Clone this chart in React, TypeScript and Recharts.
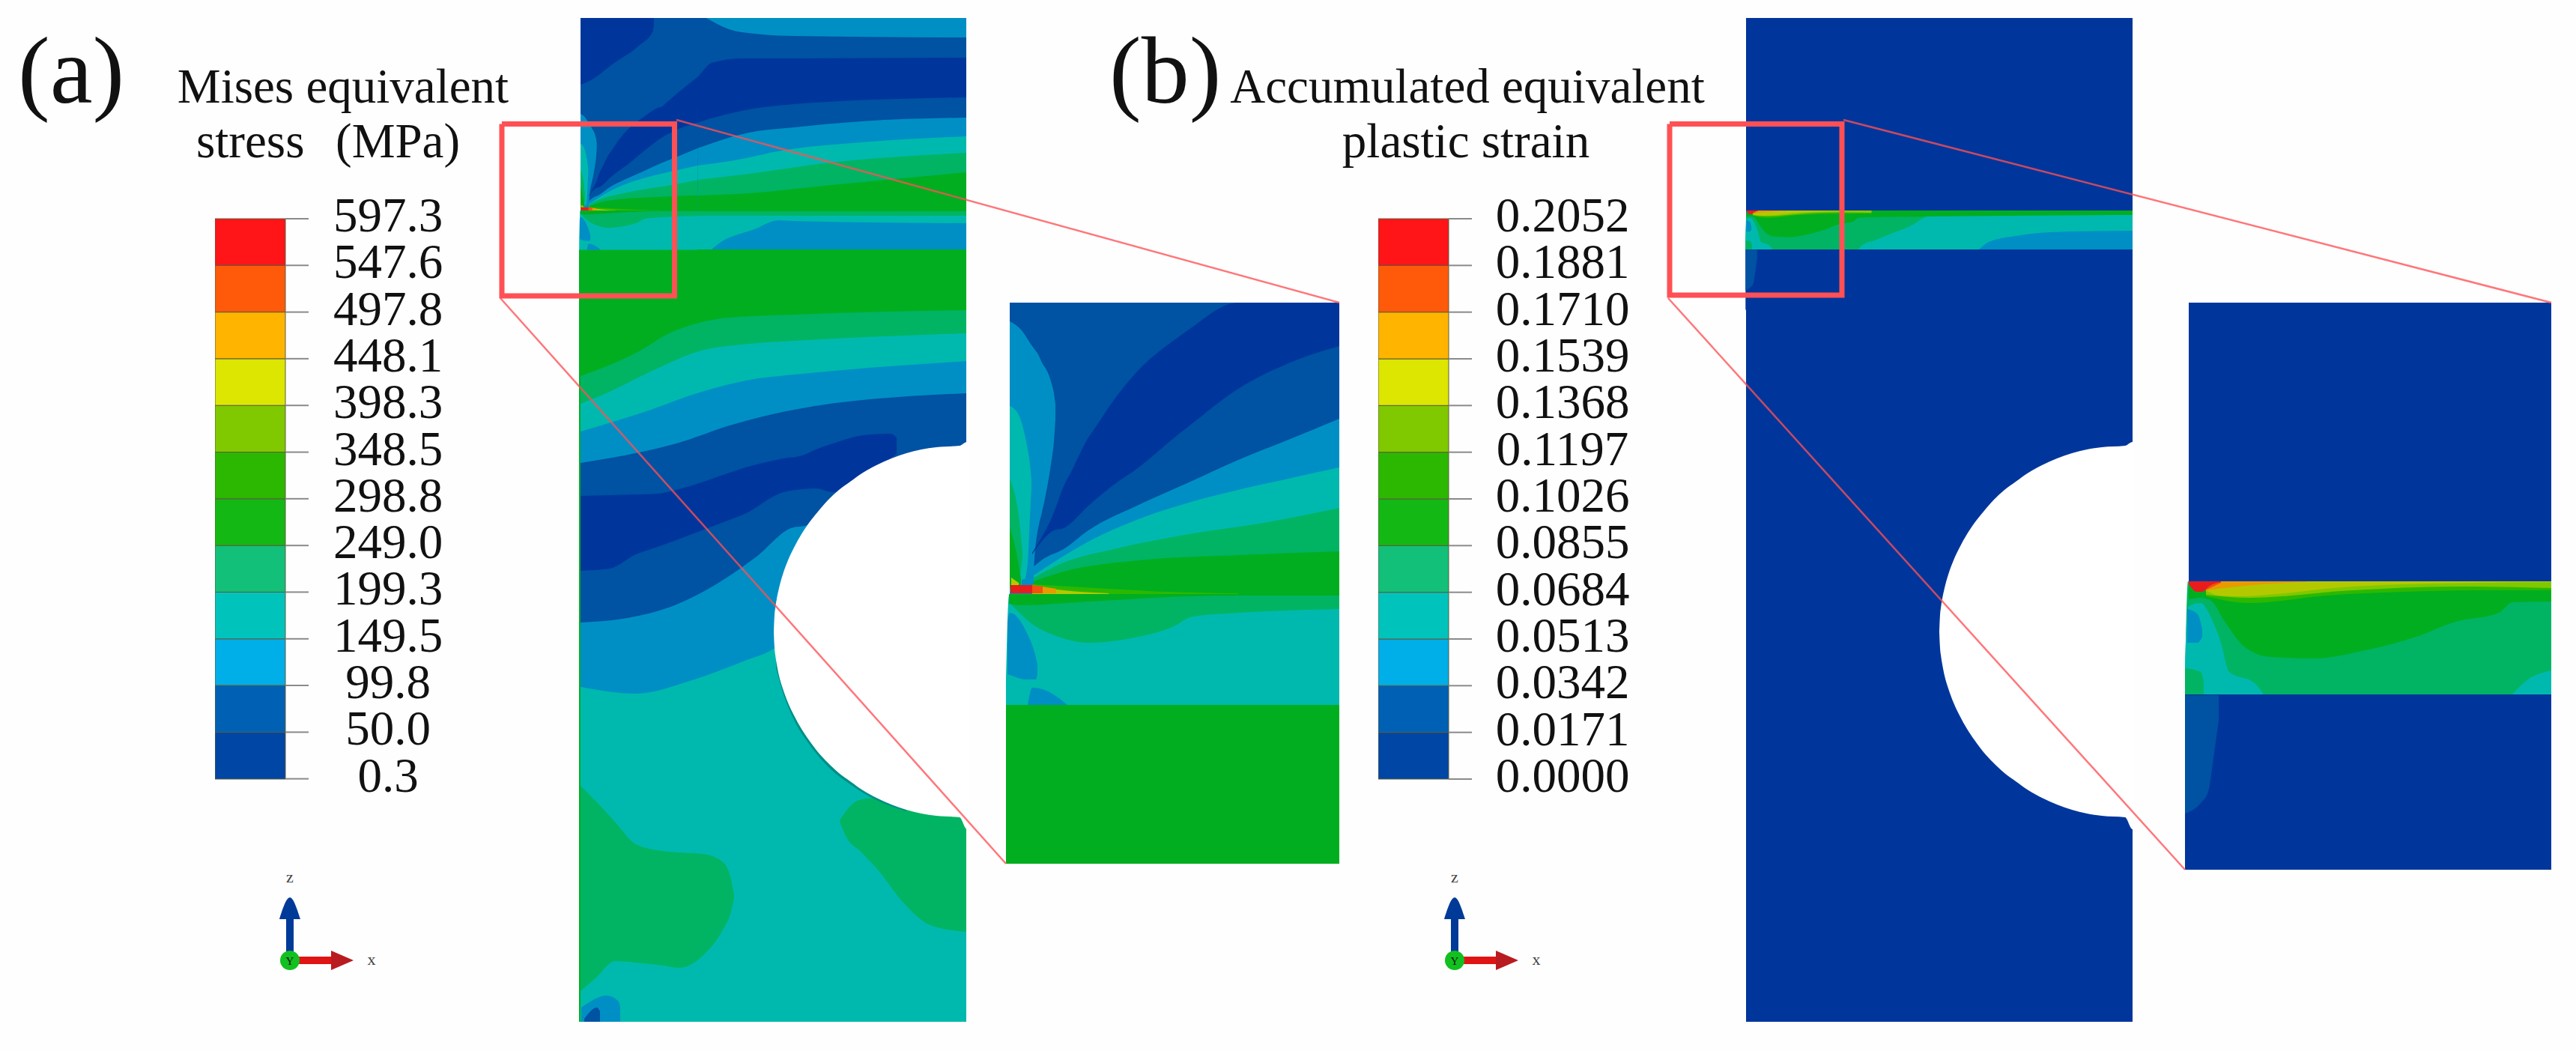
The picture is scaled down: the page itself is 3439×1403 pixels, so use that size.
import { Area, Bar, BarChart, ComposedChart, Line, ReferenceDot, XAxis, YAxis } from "recharts";

const W = 3439;
const H = 1403;

// contour colours, low to high
const C0 = "#00369b";
const C1 = "#0052a3";
const C2 = "#008fc4";
const C3 = "#00b9ae";
const C4 = "#00b464";
const C5 = "#00ae20";
const C6 = "#2cb800";
const C7 = "#80c800";
const C8 = "#b4c800";
const C9 = "#e89a00";
const C10 = "#f05010";
const C11 = "#e81c1c";
const RED = "#ff5055";

type Row = [number, number, number]; // x, upper y, lower y
type Band = { fill: string; rows: Row[] };

const stressLabels = [0.3, 50.0, 99.8, 149.5, 199.3, 249.0, 298.8, 348.5, 398.3, 448.1, 497.8, 547.6, 597.3];
const strainLabels = [0, 0.0171, 0.0342, 0.0513, 0.0684, 0.0855, 0.1026, 0.1197, 0.1368, 0.1539, 0.171, 0.1881, 0.2052];
const legendColors = ["#0046a4", "#0060b4", "#00aee8", "#00c4bc", "#12c07a", "#14b814", "#2cb800", "#80c800", "#dce600", "#ffb400", "#ff5a0a", "#ff1418"];

// zoomed view (a), picture units
const insetA: Band[] = [
  { fill: C1, rows: [[1348, 404, 795], [1788, 404, 795]] },
  { fill: C2, rows: [[1348, 429, 795], [1363, 440, 795], [1378, 462, 795], [1381, 466, 745], [1387, 475, 700], [1390, 482, 688], [1400, 500, 639], [1403, 509, 620], [1407, 525, 589], [1409, 540, 560]] },
  { fill: C3, rows: [[1348, 542, 790], [1360, 554, 790], [1368, 580, 775], [1372, 600, 750], [1375, 620, 690], [1377, 640, 650]] },
  { fill: C4, rows: [[1348, 639, 785], [1356, 665, 785], [1360, 688, 778], [1365, 738, 745]] },
  { fill: C5, rows: [[1348, 705, 785], [1357, 738, 785], [1363, 773, 785]] },
  { fill: C0, rows: [[1378, 738, 740], [1407, 684, 708], [1420, 649, 705], [1430, 630, 698], [1453, 584, 675], [1460, 574, 669], [1487, 534, 647], [1520, 494, 624], [1573, 450, 580], [1587, 440, 569], [1653, 404, 519], [1720, 404, 485], [1788, 404, 462]] },
  { fill: C2, rows: [[1378, 758, 795], [1393, 746, 795], [1420, 733, 795], [1453, 708, 795], [1520, 674, 795], [1587, 644, 795], [1653, 614, 795], [1720, 587, 795], [1788, 559, 795]] },
  { fill: C3, rows: [[1380, 768, 795], [1403, 753, 795], [1453, 723, 795], [1520, 693, 795], [1587, 671, 795], [1653, 654, 795], [1720, 639, 795], [1788, 624, 795]] },
  { fill: C4, rows: [[1380, 771, 795], [1420, 751, 795], [1487, 733, 795], [1587, 713, 795], [1687, 698, 795], [1788, 678, 795]] },
  { fill: C5, rows: [[1380, 776, 795], [1420, 763, 795], [1520, 748, 795], [1653, 741, 795], [1788, 736, 795]] },
  { fill: C3, rows: [[1343, 905, 941], [1347, 795, 941], [1788, 795, 941]] },
  { fill: C4, rows: [[1348, 795, 805], [1378, 795, 833], [1413, 795, 850], [1453, 795, 858], [1520, 795, 850], [1563, 795, 838], [1593, 795, 823], [1653, 795, 818], [1788, 795, 813]] },
  { fill: C5, rows: [[1347, 793, 806], [1363, 793, 808], [1453, 793, 803], [1587, 793, 796], [1653, 793, 795], [1788, 793, 795]] },
  { fill: C2, rows: [[1345, 830, 900], [1348, 818, 901], [1370, 843, 907], [1383, 878, 907], [1385, 887, 900]] },
  { fill: C2, rows: [[1372, 941, 941], [1378, 918, 941], [1397, 922, 941], [1425, 941, 941]] },
  { fill: C5, rows: [[1343, 941, 1153], [1788, 941, 1153]] },
  { fill: C6, rows: [[1378, 780, 793], [1480, 786, 793], [1560, 790, 793], [1653, 792, 793]] },
  { fill: C8, rows: [[1350, 771, 781], [1360, 778, 781]] },
  { fill: C8, rows: [[1378, 782, 793], [1420, 788, 793], [1480, 792, 793]] },
  { fill: C2, rows: [[1364, 774, 782], [1378, 770, 782]] },
  { fill: C9, rows: [[1378, 781, 792], [1410, 786, 792]] },
  { fill: C10, rows: [[1378, 781, 792], [1392, 783, 792]] },
  { fill: C11, rows: [[1349, 781, 792], [1378, 781, 792]] },
];

// zoomed view (b), picture units
const insetB: Band[] = [
  { fill: C0, rows: [[2917, 927, 1161], [3406, 927, 1161]] },
  { fill: C0, rows: [[2922, 404, 776], [3406, 404, 776]] },
  { fill: C1, rows: [[2917, 928, 1086], [2938, 928, 1072], [2948, 928, 1057], [2955, 928, 1012], [2962, 928, 962]] },
  { fill: C4, rows: [[2917, 900, 927], [2921, 776, 927], [3406, 776, 927]] },
  { fill: C3, rows: [[3354, 927, 927], [3371, 910, 927], [3406, 895, 927]] },
  { fill: C3, rows: [[2917, 890, 927], [2921, 810, 927], [2938, 805, 927], [2952, 825, 927], [2965, 858, 927], [2976, 897, 927], [3010, 912, 927], [3022, 927, 927]] },
  { fill: C2, rows: [[2920, 813, 858], [2934, 820, 858], [2940, 840, 850]] },
  { fill: C4, rows: [[2917, 892, 927], [2938, 897, 927], [2942, 910, 927]] },
  { fill: C5, rows: [[2922, 776, 800], [2938, 776, 798], [2952, 776, 802], [2969, 776, 828], [2996, 776, 863], [3031, 776, 877], [3089, 776, 879], [3158, 776, 868], [3226, 776, 850], [3278, 776, 830], [3336, 776, 818], [3354, 776, 804], [3406, 776, 803]] },
  { fill: C6, rows: [[2945, 776, 796], [3003, 776, 805], [3106, 776, 795], [3209, 776, 790], [3312, 776, 788], [3406, 776, 788]] },
  { fill: C7, rows: [[2945, 776, 794], [3003, 776, 798], [3140, 776, 788], [3278, 776, 783], [3406, 776, 785]] },
  { fill: C8, rows: [[2945, 776, 788], [2962, 776, 795], [2986, 776, 796], [3140, 776, 783], [3244, 776, 779], [3406, 776, 777]] },
  { fill: C9, rows: [[2946, 776, 788], [2969, 776, 785], [3020, 776, 780], [3079, 776, 777]] },
  { fill: C10, rows: [[2940, 776, 790], [2965, 776, 778]] },
  { fill: C11, rows: [[2922, 776, 780], [2933, 776, 790], [2940, 776, 790], [2950, 776, 782], [2965, 776, 777]] },
];

// specimen (a), picture units, drawn back to front
const bodyAUpper: Band[] = [
  { fill: C1, rows: [[775, 24, 333], [1290, 24, 333]] },
  { fill: C0, rows: [[775, 24, 113], [787, 24, 108], [820, 24, 84], [853, 24, 61], [872, 24, 41], [873, 24, 30]] },
  { fill: C2, rows: [[943, 24, 24], [973, 24, 39], [1007, 24, 45], [1060, 24, 48], [1290, 24, 50]] },
  { fill: C0, rows: [[883, 143, 184], [900, 128, 177], [917, 114, 171], [931, 103, 164], [950, 84, 158], [990, 78, 148], [1060, 78, 139], [1290, 77, 130]] },
  { fill: C2, rows: [[931, 198, 333], [1000, 177, 333], [1060, 170, 333], [1150, 162, 333], [1290, 157, 333]] },
  { fill: C3, rows: [[931, 221, 333], [975, 215, 333], [1050, 200, 333], [1150, 190, 333], [1290, 182, 333]] },
  { fill: C4, rows: [[931, 240, 288], [1000, 232, 288], [1100, 218, 288], [1290, 204, 288]] },
  { fill: C5, rows: [[931, 261, 282], [1000, 258, 282], [1100, 248, 282], [1290, 230, 282]] },
  { fill: C2, rows: [[950, 333, 333], [957, 327, 333], [1007, 306, 333], [1040, 294, 333], [1060, 295, 333], [1290, 298, 333]] },
];

const bodyALower: Band[] = [
  { fill: C5, rows: [[773, 333, 1364], [1290, 333, 1364]] },
  { fill: C4, rows: [[775, 502, 1364], [807, 490, 1364], [853, 469, 1364], [893, 445, 1364], [933, 431, 1364], [973, 424, 1364], [1060, 420, 1364], [1290, 414, 1364]] },
  { fill: C3, rows: [[775, 539, 1364], [807, 526, 1364], [873, 494, 1364], [933, 469, 1364], [1000, 459, 1364], [1060, 455, 1364], [1290, 445, 1364]] },
  { fill: C2, rows: [[775, 576, 1364], [857, 551, 1364], [940, 522, 1364], [1007, 506, 1364], [1060, 500, 1364], [1290, 482, 1364]] },
  { fill: C1, rows: [[775, 618, 1364], [853, 604, 1364], [903, 592, 1364], [974, 568, 1364], [1031, 553, 1364], [1060, 547, 1364], [1290, 525, 1364]] },
  { fill: C0, rows: [[775, 662, 762], [814, 661, 759], [849, 660, 740], [878, 659, 730], [903, 654, 721], [921, 649, 714], [974, 631, 694], [992, 625, 687], [1046, 612, 657], [1071, 608, 653], [1089, 600, 652], [1112, 592, 657], [1153, 581, 632], [1189, 579, 612], [1197, 584, 606]] },
  { fill: C2, rows: [[775, 831, 1364], [831, 826, 1364], [903, 807, 1364], [956, 780, 1364], [1010, 743, 1364], [1056, 705, 1364], [1078, 701, 1364], [1100, 690, 1364], [1290, 690, 1364]] },
  { fill: C3, rows: [[775, 917, 1364], [849, 926, 1364], [921, 909, 1364], [992, 883, 1364], [1033, 866, 1364], [1100, 800, 1364], [1290, 800, 1364]] },
  { fill: C4, rows: [[775, 1049, 1323], [796, 1070, 1305], [821, 1097, 1283], [849, 1127, 1285], [885, 1136, 1289], [906, 1138, 1292], [939, 1140, 1275], [964, 1150, 1243], [975, 1170, 1220], [980, 1195, 1200]] },
  { fill: C4, rows: [[1121, 1095, 1097], [1130, 1082, 1118], [1147, 1068, 1135], [1171, 1065, 1160], [1206, 1075, 1205], [1242, 1085, 1235], [1290, 1085, 1244]] },
  { fill: C2, rows: [[776, 1345, 1364], [810, 1329, 1364], [826, 1337, 1364], [828, 1345, 1364]] },
  { fill: C1, rows: [[780, 1360, 1364], [797, 1345, 1364], [801, 1350, 1364]] },
  { fill: "#008f86", rows: [[1036, 800, 892], [1045, 800, 924], [1060, 800, 961], [1080, 800, 993], [1105, 800, 1023], [1135, 800, 1047], [1170, 800, 1068], [1210, 800, 1083]] },
];

// notch of specimen (a); specimen (b) has the same one
const notchA: Row[] = [[1033, 843, 844], [1034, 821, 865], [1035, 812, 874], [1037, 799, 887], [1040, 785, 902], [1045, 767, 919], [1052, 748, 938], [1060, 731, 955], [1070, 713, 973], [1080, 698, 988], [1092, 683, 1004], [1105, 668, 1018], [1120, 654, 1032], [1135, 643, 1043], [1152, 631, 1055], [1170, 621, 1065], [1190, 612, 1074], [1210, 605, 1081], [1230, 600, 1086], [1250, 597, 1089], [1281, 595, 1091], [1291, 590, 1107], [1294, 590, 1107]];
const PANEL_SHIFT = 1556;

// specimen (b), band right of the zoomed part
const bodyBUpper: Band[] = [
  { fill: C0, rows: [[2331, 24, 1364], [2847, 24, 1364]] },
  { fill: C4, rows: [[2498, 281, 333], [2580, 281, 333]] },
  { fill: C3, rows: [[2498, 323, 333], [2512, 317, 333], [2557, 298, 333], [2570, 290, 333], [2580, 287, 333], [2847, 287, 333]] },
  { fill: C2, rows: [[2642, 333, 333], [2655, 323, 333], [2691, 315, 333], [2736, 310, 333], [2847, 308, 333]] },
  { fill: C5, rows: [[2498, 281, 290], [2570, 281, 289], [2847, 281, 287]] },
];

// zoom scale of each red box
const zoomA = (x: number, y: number) => [775 + (x - 1348) * 0.355, 143 + (y - 404) * 0.355];
const zoomB = (x: number, y: number) => [2332 + (x - 2922) * 0.344, 281 + (y - 776) * 0.344];

const mapBands = (bands: Band[], fn: (x: number, y: number) => number[]): Band[] =>
  bands.map((b) => ({
    fill: b.fill,
    rows: b.rows.map(([x, t, v]): Row => [fn(x, t)[0], fn(x, t)[1], fn(x, v)[1]]),
  }));

const notchB: Row[] = notchA.map(([x, t, b]) => [x + PANEL_SHIFT, t, b]);
const notchBands: Band[] = [
  { fill: "#ffffff", rows: notchA },
  { fill: "#ffffff", rows: notchB },
];

const triadBands = (shift: number): Band[] => [
  { fill: "#003a98", rows: [[382 + shift, 1227, 1282], [392 + shift, 1227, 1282]] },
  { fill: "#003a98", rows: [[373 + shift, 1227, 1227], [387 + shift, 1198, 1227], [401 + shift, 1227, 1227]] },
  { fill: "#e01414", rows: [[387 + shift, 1277, 1287], [442 + shift, 1277, 1287]] },
  { fill: "#b81c20", rows: [[442 + shift, 1269, 1295], [472 + shift, 1282, 1282]] },
];

const boxA = [{ x: 670, y: 165.5 }, { x: 900.5, y: 165.5 }, { x: 900.5, y: 395 }, { x: 670, y: 395 }, { x: 670, y: 165.5 }];
const boxB = [{ x: 2229, y: 165.5 }, { x: 2459, y: 165.5 }, { x: 2459, y: 394 }, { x: 2229, y: 394 }, { x: 2229, y: 165.5 }];
const leadersA = [
  [{ x: 903, y: 160 }, { x: 1788, y: 404 }],
  [{ x: 668, y: 398 }, { x: 1343, y: 1153 }],
];
const leadersB = [
  [{ x: 2461, y: 160 }, { x: 3406, y: 404 }],
  [{ x: 2227, y: 398 }, { x: 2917, y: 1161 }],
];

const allBands: Band[] = [
  ...bodyAUpper,
  ...bodyALower,
  ...mapBands(insetA, zoomA),
  ...insetA,
  ...bodyBUpper,
  ...mapBands(insetB, zoomB),
  ...insetB,
  ...notchBands,
  ...triadBands(0),
  ...triadBands(1555),
];

const toData = (rows: Row[]) => rows.map(([x, top, bot]) => ({ x, range: [top, bot] }));
const bandKeys = legendColors.map((_, i) => "band" + i);

function ColorScale({ left, values, digits, labelOffset }: { left: number; values: number[]; digits: number; labelOffset: number }) {
  const row: Record<string, number> = {};
  bandKeys.forEach((k, i) => {
    row[k] = i === 0 ? values[1] : values[i + 1] - values[i];
  });
  const LegendTick = (props: any) => {
    const { x, y, payload } = props;
    return (
      <text x={x + labelOffset} y={y + 17} textAnchor="middle" fontFamily="Liberation Serif" fontSize={65} fill="#111">
        {payload.value.toFixed(digits)}
      </text>
    );
  };
  return (
    <div style={{ position: "absolute", left, top: 252 }}>
      <BarChart width={400} height={828} data={[row]} margin={{ top: 40, bottom: 40, left: 0, right: 0 }} barCategoryGap={0} stackOffset="none">
        <XAxis dataKey={() => "scale"} hide />
        <YAxis
          orientation="right"
          type="number"
          width={306}
          domain={[0, values[12]]}
          ticks={values}
          interval={0}
          tick={LegendTick}
          tickSize={31}
          tickMargin={0}
          axisLine={false}
          tickLine={{ stroke: "#8a8a8a", strokeWidth: 2 }}
        />
        {bandKeys.map((k, i) => (
          <Bar key={k} dataKey={k} stackId="scale" fill={legendColors[i]} stroke="#5c5c3c" strokeWidth={1} isAnimationActive={false} />
        ))}
      </BarChart>
    </div>
  );
}

export default function App() {
  return (
    <div style={{ position: "absolute", left: 0, top: 0, width: W, height: H, background: "#fefefe", overflow: "hidden" }}>
      <div style={{ position: "absolute", left: 0, top: 0 }}>
        <ComposedChart width={W} height={H} margin={{ top: 0, right: 0, bottom: 0, left: 0 }}>
          <XAxis type="number" dataKey="x" domain={[0, W]} hide allowDataOverflow />
          <YAxis type="number" domain={[0, H]} reversed hide allowDataOverflow width={0} />
          {allBands.map((b, i) => (
            <Area
              key={i}
              type="monotone"
              data={toData(b.rows)}
              dataKey="range"
              fill={b.fill}
              fillOpacity={1}
              stroke="none"
              dot={false}
              activeDot={false}
              isAnimationActive={false}
            />
          ))}
          {[boxA, boxB].map((pts, i) => (
            <Line key={"box" + i} type="linear" data={pts} dataKey="y" stroke={RED} strokeWidth={7} strokeLinejoin="miter" dot={false} activeDot={false} isAnimationActive={false} />
          ))}
          {[...leadersA, ...leadersB].map((pts, i) => (
            <Line key={"lead" + i} type="linear" data={pts} dataKey="y" stroke={RED} strokeWidth={2.5} strokeOpacity={0.78} dot={false} activeDot={false} isAnimationActive={false} />
          ))}
          <ReferenceDot x={387} y={1282} r={13} fill="#12c020" stroke="none" ifOverflow="visible" />
          <ReferenceDot x={1942} y={1282} r={13} fill="#12c020" stroke="none" ifOverflow="visible" />
        </ComposedChart>
      </div>
      <ColorScale left={287} values={stressLabels} digits={1} labelOffset={106} />
      <ColorScale left={1840} values={strainLabels} digits={4} labelOffset={121} />
      <svg width={W} height={H} style={{ position: "absolute", left: 0, top: 0, pointerEvents: "none" }} fontFamily="Liberation Serif" fill="#111">
        <text x={24} y={137} fontSize={128}>(a)</text>
        <text x={1481} y={137} fontSize={128}>(b)</text>
        <text x={458} y={137} fontSize={65} textAnchor="middle">Mises equivalent</text>
        <text x={262} y={210} fontSize={65}>stress</text>
        <text x={448} y={210} fontSize={65}>(MPa)</text>
        <text x={1959} y={137} fontSize={65} textAnchor="middle">Accumulated equivalent</text>
        <text x={1957} y={210} fontSize={65} textAnchor="middle">plastic strain</text>
        <text x={387} y={1178} fontSize={22} textAnchor="middle" fill="#444">z</text>
        <text x={496} y={1288} fontSize={22} textAnchor="middle" fill="#444">x</text>
        <text x={387} y={1288} fontSize={15} textAnchor="middle" fill="#111">Y</text>
        <text x={1942} y={1178} fontSize={22} textAnchor="middle" fill="#444">z</text>
        <text x={2051} y={1288} fontSize={22} textAnchor="middle" fill="#444">x</text>
        <text x={1942} y={1288} fontSize={15} textAnchor="middle" fill="#111">Y</text>
      </svg>
    </div>
  );
}
